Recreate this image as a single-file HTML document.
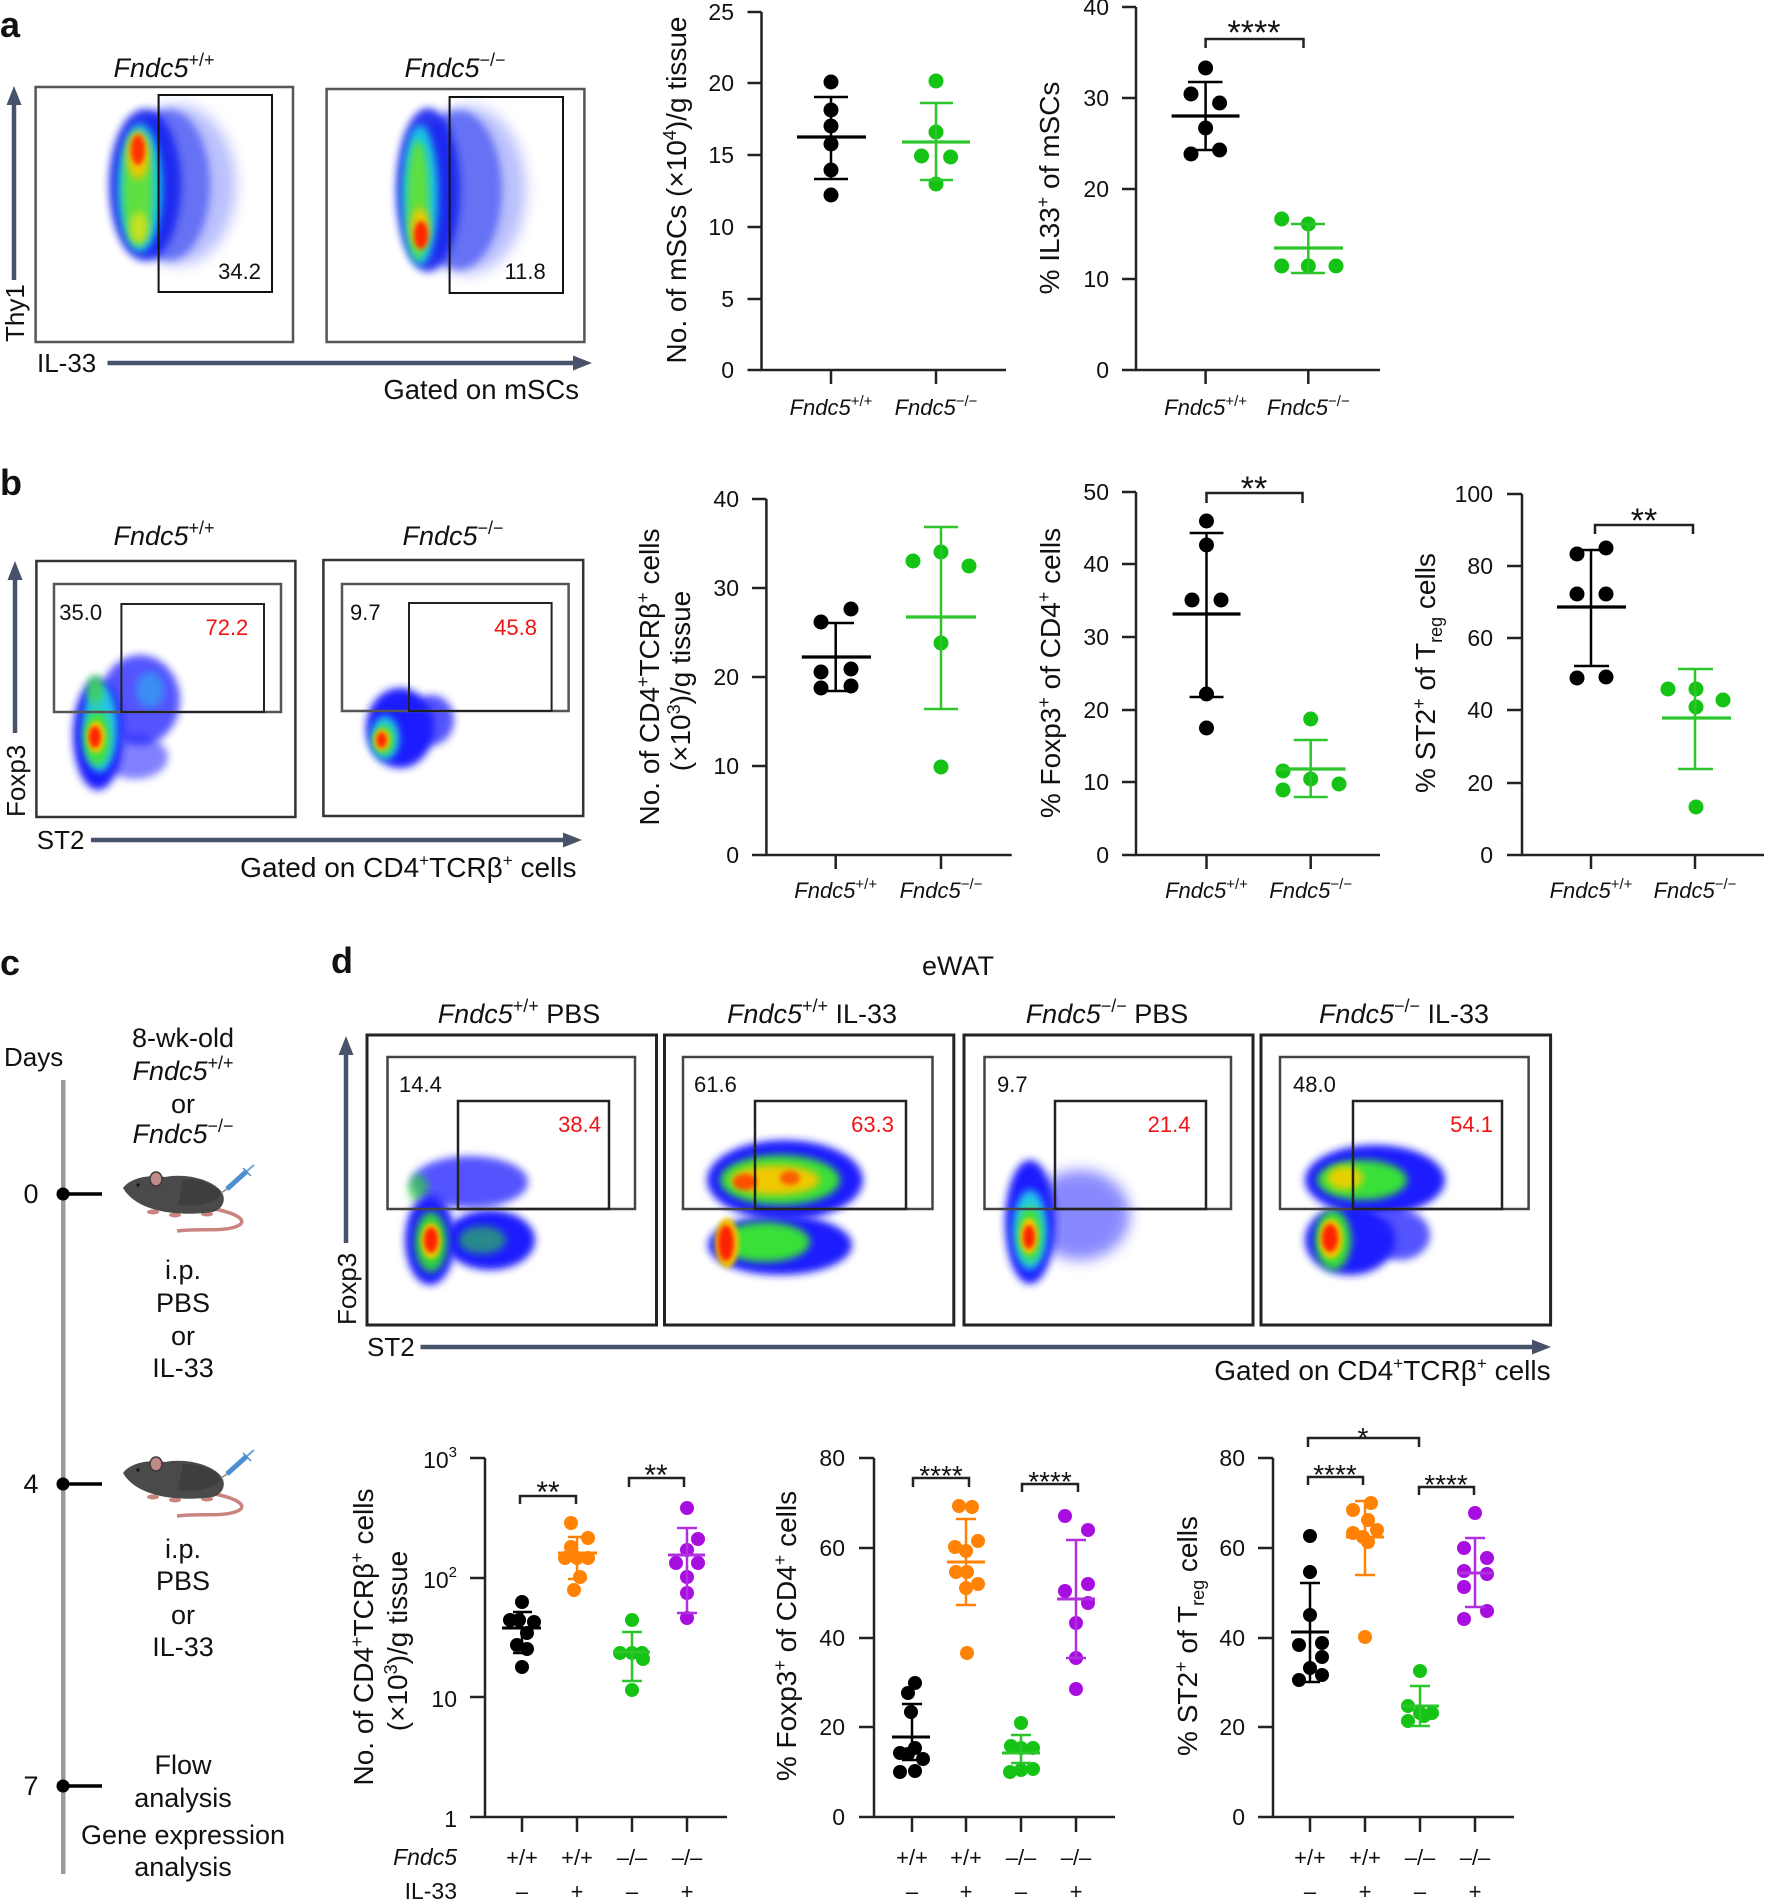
<!DOCTYPE html>
<html><head><meta charset="utf-8"><style>
html,body{margin:0;padding:0;background:#fff;}
svg{display:block;}
text{font-family:"Liberation Sans",sans-serif;fill:#111;}
.i{font-style:italic;}
.r{fill:#f01414;}
</style></head><body>
<svg width="1766" height="1900" viewBox="0 0 1766 1900">
<defs>
<filter id="f2" x="-50%" y="-50%" width="200%" height="200%"><feGaussianBlur stdDeviation="2.5"/></filter>
<filter id="f4" x="-50%" y="-50%" width="200%" height="200%"><feGaussianBlur stdDeviation="4"/></filter>
<filter id="f7" x="-50%" y="-50%" width="200%" height="200%"><feGaussianBlur stdDeviation="7"/></filter>
<g id="mouse">
  <path d="M92 44 C116 49 127 57 112 62 C96 67 76 63 54 66" stroke="#c9847f" stroke-width="3.5" fill="none"/>
  <ellipse cx="30" cy="47" rx="6" ry="2.5" fill="#c9847f"/>
  <ellipse cx="52" cy="50" rx="6" ry="2.5" fill="#c9847f"/>
  <ellipse cx="84" cy="49" rx="6" ry="2.5" fill="#c9847f"/>
  <path d="M0 23 C6 14 24 9 42 12 C62 8 88 14 98 26 C104 34 100 44 90 47 C70 50 45 49 30 44 C16 40 6 33 0 23 Z" fill="#4a4a4a"/>
  <path d="M60 14 C80 14 96 22 98 30 C90 40 70 42 55 40 Z" fill="#3e3e3e"/>
  <ellipse cx="33" cy="14" rx="6" ry="7" fill="#c08a88" stroke="#3a3a3a" stroke-width="1.5"/>
  <circle cx="15" cy="20" r="1.6" fill="#111"/>
  <line x1="98" y1="28" x2="104" y2="24" stroke="#888" stroke-width="1.5"/>
  <line x1="104" y1="24" x2="124" y2="6" stroke="#4a90d0" stroke-width="5"/>
  <line x1="124" y1="6" x2="131" y2="0" stroke="#6aa8e0" stroke-width="2"/>
  <line x1="120" y1="3" x2="128" y2="11" stroke="#4a90d0" stroke-width="1.5"/>
</g>
</defs>

<!-- ============ PANEL A FLOW ============ -->
<text x="0" y="37" font-size="36" font-weight="bold">a</text>
<text x="164" y="77" text-anchor="middle" font-size="27"><tspan class="i">Fndc5</tspan><tspan font-size="18" dy="-11">+/+</tspan></text>
<text x="455" y="77" text-anchor="middle" font-size="27"><tspan class="i">Fndc5</tspan><tspan font-size="18" dy="-11">−/−</tspan></text>

<g>
  <ellipse cx="178" cy="185" rx="58" ry="80" fill="#3a4cf6" opacity="0.35" filter="url(#f7)"/>
  <ellipse cx="168" cy="185" rx="42" ry="76" fill="#2232f0" opacity="0.55" filter="url(#f4)"/>
  <ellipse cx="145" cy="185" rx="36" ry="76" fill="#1424ee" opacity="0.9" filter="url(#f4)"/>
  <ellipse cx="140" cy="188" rx="22" ry="64" fill="#18c4e8" filter="url(#f4)"/>
  <ellipse cx="138" cy="190" rx="15" ry="55" fill="#5ee040" filter="url(#f4)"/>
  <ellipse cx="139" cy="228" rx="9" ry="16" fill="#c8e020" filter="url(#f4)"/>
  <ellipse cx="138" cy="155" rx="11" ry="24" fill="#f0c800" filter="url(#f4)"/>
  <ellipse cx="138" cy="150" rx="7" ry="15" fill="#ff3000" filter="url(#f2)"/>
</g>
<g>
  <ellipse cx="468" cy="190" rx="58" ry="84" fill="#3a4cf6" opacity="0.35" filter="url(#f7)"/>
  <ellipse cx="458" cy="190" rx="44" ry="80" fill="#2232f0" opacity="0.55" filter="url(#f4)"/>
  <ellipse cx="428" cy="190" rx="32" ry="82" fill="#1424ee" opacity="0.9" filter="url(#f4)"/>
  <ellipse cx="420" cy="195" rx="18" ry="70" fill="#18c4e8" filter="url(#f4)"/>
  <ellipse cx="418" cy="200" rx="11" ry="60" fill="#5ee040" filter="url(#f4)"/>
  <ellipse cx="420" cy="228" rx="9" ry="20" fill="#f0c800" filter="url(#f4)"/>
  <ellipse cx="421" cy="235" rx="7" ry="14" fill="#ff2800" filter="url(#f2)"/>
</g>
<rect x="35.6" y="87" width="257.4" height="255" fill="none" stroke="#555" stroke-width="2.5"/>
<rect x="326.6" y="89" width="257.8" height="253" fill="none" stroke="#555" stroke-width="2.5"/>
<rect x="158.6" y="95" width="113.4" height="197" fill="none" stroke="#111" stroke-width="2"/>
<rect x="449.6" y="97" width="113.4" height="196" fill="none" stroke="#111" stroke-width="2"/>
<text x="261" y="279" text-anchor="end" font-size="22">34.2</text>
<text x="545.7" y="279" text-anchor="end" font-size="22">11.8</text>
<line x1="14" y1="280" x2="14" y2="100" stroke="#46536a" stroke-width="4.5"/>
<polygon points="14,86 6.5,105 21.5,105" fill="#46536a"/>
<text transform="translate(24,342) rotate(-90)" font-size="26">Thy1</text>
<text x="37" y="372" font-size="26">IL-33</text>
<line x1="107.5" y1="363" x2="578" y2="363" stroke="#46536a" stroke-width="4.5"/>
<polygon points="592,363 573,355.5 573,370.5" fill="#46536a"/>
<text x="579" y="399" text-anchor="end" font-size="27.5">Gated on mSCs</text>

<!-- ============ PANEL A CHARTS ============ -->
<g stroke="#222" stroke-width="2.5" fill="none">
  <path d="M761.5 12 V370 H1006"/>
  <path d="M747.5 12 H761.5 M747.5 83 H761.5 M747.5 155 H761.5 M747.5 227 H761.5 M747.5 299 H761.5 M747.5 370 H761.5 M831 370 V384 M936 370 V384"/>
  <path d="M1136 7 V370 H1380"/>
  <path d="M1122 7 H1136 M1122 98 H1136 M1122 189 H1136 M1122 279 H1136 M1122 370 H1136 M1205.6 370 V384 M1308.3 370 V384"/>
  <path d="M1205.6 48 V39 H1303.5 V48"/>
</g>
<g font-size="23" text-anchor="end">
  <text x="734" y="20">25</text><text x="734" y="91">20</text><text x="734" y="163">15</text><text x="734" y="235">10</text><text x="734" y="307">5</text><text x="734" y="378">0</text>
  <text x="1109" y="15">40</text><text x="1109" y="106">30</text><text x="1109" y="197">20</text><text x="1109" y="287">10</text><text x="1109" y="378">0</text>
</g>
<g font-size="22" text-anchor="middle">
  <text x="831" y="415"><tspan class="i">Fndc5</tspan><tspan font-size="15" dy="-9">+/+</tspan></text>
  <text x="936" y="415"><tspan class="i">Fndc5</tspan><tspan font-size="15" dy="-9">−/−</tspan></text>
  <text x="1205.6" y="415"><tspan class="i">Fndc5</tspan><tspan font-size="15" dy="-9">+/+</tspan></text>
  <text x="1308.3" y="415"><tspan class="i">Fndc5</tspan><tspan font-size="15" dy="-9">−/−</tspan></text>
</g>
<text transform="translate(686,190) rotate(-90)" text-anchor="middle" font-size="28">No. of mSCs (×10<tspan font-size="18" dy="-10">4</tspan><tspan dy="10">)/g tissue</tspan></text>
<text transform="translate(1059,188) rotate(-90)" text-anchor="middle" font-size="28">% IL33<tspan font-size="18" dy="-10">+</tspan><tspan dy="10"> of mSCs</tspan></text>
<text x="1254" y="44" text-anchor="middle" font-size="34">****</text>

<!-- a1 data -->
<g fill="#000"><circle cx="831" cy="82" r="7.5"/><circle cx="831" cy="110" r="7.5"/><circle cx="831" cy="126" r="7.5"/><circle cx="831" cy="144" r="7.5"/><circle cx="831" cy="170" r="7.5"/><circle cx="831" cy="195" r="7.5"/></g>
<g stroke="#000" stroke-width="2.5"><path d="M831 97 V179 M814 97 H848 M814 179 H848"/><path d="M797 137 H866" stroke-width="3.2"/></g>
<g fill="#14c314"><circle cx="936" cy="81" r="7.5"/><circle cx="936" cy="132" r="7.5"/><circle cx="921.5" cy="156" r="7.5"/><circle cx="950.6" cy="157" r="7.5"/><circle cx="936" cy="184" r="7.5"/></g>
<g stroke="#2cc62c" stroke-width="2.5"><path d="M936 103 V180 M920 103 H953 M920 180 H953"/><path d="M902 142 H970" stroke-width="3.2"/></g>
<!-- a2 data -->
<g fill="#000"><circle cx="1205.6" cy="68" r="7.5"/><circle cx="1191" cy="94" r="7.5"/><circle cx="1219.6" cy="103" r="7.5"/><circle cx="1205.6" cy="128" r="7.5"/><circle cx="1191" cy="154" r="7.5"/><circle cx="1219.6" cy="150" r="7.5"/></g>
<g stroke="#000" stroke-width="2.5"><path d="M1205.6 82 V150 M1188 82 H1222.5 M1188 150 H1222.5"/><path d="M1171.6 116 H1239.5" stroke-width="3.2"/></g>
<g fill="#14c314"><circle cx="1281.7" cy="219" r="7.5"/><circle cx="1308.3" cy="224" r="7.5"/><circle cx="1281.7" cy="266" r="7.5"/><circle cx="1308.3" cy="266" r="7.5"/><circle cx="1336" cy="266" r="7.5"/></g>
<g stroke="#2cc62c" stroke-width="2.5"><path d="M1308.3 224 V273 M1291 224 H1325 M1291 273 H1325"/><path d="M1274 248 H1343" stroke-width="3.2"/></g>

<!-- ============ PANEL B FLOW ============ -->
<text x="0" y="495" font-size="36" font-weight="bold">b</text>
<text x="164" y="545" text-anchor="middle" font-size="27"><tspan class="i">Fndc5</tspan><tspan font-size="18" dy="-11">+/+</tspan></text>
<text x="453" y="545" text-anchor="middle" font-size="27"><tspan class="i">Fndc5</tspan><tspan font-size="18" dy="-11">−/−</tspan></text>
<g>
  <ellipse cx="140" cy="700" rx="40" ry="45" fill="#1a1aff" opacity="0.75" filter="url(#f4)"/>
  <ellipse cx="135" cy="757" rx="33" ry="22" fill="#1a1aff" opacity="0.55" filter="url(#f4)"/>
  <ellipse cx="98" cy="735" rx="25" ry="55" fill="#1a1aff" filter="url(#f4)"/>
  <ellipse cx="150" cy="690" rx="14" ry="18" fill="#20c8e8" opacity="0.5" filter="url(#f4)"/>
  <ellipse cx="100" cy="728" rx="17" ry="44" fill="#20c8e8" filter="url(#f4)"/>
  <ellipse cx="97" cy="738" rx="13" ry="28" fill="#40e040" filter="url(#f4)"/>
  <ellipse cx="95" cy="690" rx="8" ry="15" fill="#40d060" filter="url(#f4)"/>
  <ellipse cx="96" cy="737" rx="9" ry="16" fill="#f0d000" filter="url(#f2)"/>
  <ellipse cx="95" cy="737" rx="6" ry="11" fill="#ff2000" filter="url(#f2)"/>
</g>
<g>
  <ellipse cx="400" cy="728" rx="34" ry="40" fill="#1a1aff" filter="url(#f4)"/>
  <ellipse cx="432" cy="720" rx="22" ry="25" fill="#1a1aff" opacity="0.75" filter="url(#f4)"/>
  <ellipse cx="385" cy="738" rx="14" ry="22" fill="#20c8e8" filter="url(#f4)"/>
  <ellipse cx="384" cy="740" rx="10" ry="15" fill="#40e040" filter="url(#f4)"/>
  <ellipse cx="382" cy="740" rx="8" ry="11" fill="#f0d000" filter="url(#f2)"/>
  <ellipse cx="381.6" cy="740" rx="5" ry="8" fill="#ff2000" filter="url(#f2)"/>
</g>
<rect x="36.4" y="561" width="259" height="256" fill="none" stroke="#333" stroke-width="2.5"/>
<rect x="323.4" y="560" width="259.8" height="256" fill="none" stroke="#333" stroke-width="2.5"/>
<rect x="54" y="584" width="227" height="128" fill="none" stroke="#555" stroke-width="2.5"/>
<rect x="121.4" y="604" width="142.6" height="108" fill="none" stroke="#222" stroke-width="2"/>
<rect x="342" y="584" width="226.6" height="127" fill="none" stroke="#555" stroke-width="2.5"/>
<rect x="409" y="603" width="142.6" height="108" fill="none" stroke="#222" stroke-width="2"/>
<text x="59.3" y="620" font-size="22">35.0</text>
<text x="248.3" y="635" text-anchor="end" font-size="22" class="r">72.2</text>
<text x="350" y="620" font-size="22">9.7</text>
<text x="537" y="635" text-anchor="end" font-size="22" class="r">45.8</text>
<line x1="15" y1="733" x2="15" y2="575" stroke="#46536a" stroke-width="4.5"/>
<polygon points="15,561 7.5,580 22.5,580" fill="#46536a"/>
<text transform="translate(25,817) rotate(-90)" font-size="26">Foxp3</text>
<text x="36.8" y="849" font-size="26">ST2</text>
<line x1="91" y1="840" x2="568" y2="840" stroke="#46536a" stroke-width="4.5"/>
<polygon points="582,840 563,832.5 563,847.5" fill="#46536a"/>
<text x="576.5" y="877" text-anchor="end" font-size="28">Gated on CD4<tspan font-size="17" dy="-11">+</tspan><tspan dy="11">TCRβ</tspan><tspan font-size="17" dy="-11">+</tspan><tspan dy="11"> cells</tspan></text>

<!-- ============ PANEL B CHARTS ============ -->
<g stroke="#222" stroke-width="2.5" fill="none">
  <path d="M766.4 499 V855 H1011.7"/>
  <path d="M752 499 H766.4 M752 588 H766.4 M752 677 H766.4 M752 766 H766.4 M752 855 H766.4 M835.7 855 V869 M941 855 V869"/>
  <path d="M1136 492 V855 H1380"/>
  <path d="M1122 492 H1136 M1122 564 H1136 M1122 637 H1136 M1122 710 H1136 M1122 782 H1136 M1122 855 H1136 M1206.5 855 V869 M1310.7 855 V869"/>
  <path d="M1206.5 503 V493 H1302.5 V503"/>
  <path d="M1522 494 V855 H1764"/>
  <path d="M1507 494 H1522 M1507 566 H1522 M1507 638 H1522 M1507 710 H1522 M1507 783 H1522 M1507 855 H1522 M1591 855 V869 M1695 855 V869"/>
  <path d="M1595 534 V525 H1693 V534"/>
</g>
<g font-size="23" text-anchor="end">
  <text x="739" y="507">40</text><text x="739" y="596">30</text><text x="739" y="685">20</text><text x="739" y="774">10</text><text x="739" y="863">0</text>
  <text x="1109" y="500">50</text><text x="1109" y="572">40</text><text x="1109" y="645">30</text><text x="1109" y="718">20</text><text x="1109" y="790">10</text><text x="1109" y="863">0</text>
  <text x="1493" y="502">100</text><text x="1493" y="574">80</text><text x="1493" y="646">60</text><text x="1493" y="718">40</text><text x="1493" y="791">20</text><text x="1493" y="863">0</text>
</g>
<g font-size="22" text-anchor="middle">
  <text x="835.7" y="898"><tspan class="i">Fndc5</tspan><tspan font-size="15" dy="-9">+/+</tspan></text>
  <text x="941" y="898"><tspan class="i">Fndc5</tspan><tspan font-size="15" dy="-9">−/−</tspan></text>
  <text x="1206.5" y="898"><tspan class="i">Fndc5</tspan><tspan font-size="15" dy="-9">+/+</tspan></text>
  <text x="1310.7" y="898"><tspan class="i">Fndc5</tspan><tspan font-size="15" dy="-9">−/−</tspan></text>
  <text x="1591" y="898"><tspan class="i">Fndc5</tspan><tspan font-size="15" dy="-9">+/+</tspan></text>
  <text x="1695" y="898"><tspan class="i">Fndc5</tspan><tspan font-size="15" dy="-9">−/−</tspan></text>
</g>
<text transform="translate(659,677) rotate(-90)" text-anchor="middle" font-size="28">No. of CD4<tspan font-size="18" dy="-10">+</tspan><tspan dy="10">TCRβ</tspan><tspan font-size="18" dy="-10">+</tspan><tspan dy="10"> cells</tspan></text>
<text transform="translate(690,681) rotate(-90)" text-anchor="middle" font-size="28">(×10<tspan font-size="18" dy="-10">3</tspan><tspan dy="10">)/g tissue</tspan></text>
<text transform="translate(1060,673) rotate(-90)" text-anchor="middle" font-size="28">% Foxp3<tspan font-size="18" dy="-10">+</tspan><tspan dy="10"> of CD4</tspan><tspan font-size="18" dy="-10">+</tspan><tspan dy="10"> cells</tspan></text>
<text transform="translate(1435,673) rotate(-90)" text-anchor="middle" font-size="28">% ST2<tspan font-size="18" dy="-10">+</tspan><tspan dy="10"> of T</tspan><tspan font-size="18" dy="7">reg</tspan><tspan dy="-7"> cells</tspan></text>
<text x="1254" y="500" text-anchor="middle" font-size="34">**</text>
<text x="1644" y="532" text-anchor="middle" font-size="34">**</text>

<!-- b1 data -->
<g fill="#000"><circle cx="821" cy="622" r="7.5"/><circle cx="851" cy="609" r="7.5"/><circle cx="821" cy="672" r="7.5"/><circle cx="851" cy="669" r="7.5"/><circle cx="821" cy="688" r="7.5"/><circle cx="851" cy="686" r="7.5"/></g>
<g stroke="#000" stroke-width="2.5"><path d="M835.7 623 V691 M816 623 H854 M816 691 H854"/><path d="M801.8 657 H871" stroke-width="3.2"/></g>
<g fill="#14c314"><circle cx="913" cy="561" r="7.5"/><circle cx="941" cy="552" r="7.5"/><circle cx="969" cy="566" r="7.5"/><circle cx="941" cy="643" r="7.5"/><circle cx="941" cy="767" r="7.5"/></g>
<g stroke="#2cc62c" stroke-width="2.5"><path d="M941 527 V709 M924 527 H958 M924 709 H958"/><path d="M906 617 H976" stroke-width="3.2"/></g>
<!-- b2 data -->
<g fill="#000"><circle cx="1206.5" cy="521" r="7.5"/><circle cx="1206.5" cy="545" r="7.5"/><circle cx="1192" cy="600" r="7.5"/><circle cx="1221" cy="600" r="7.5"/><circle cx="1206.5" cy="694" r="7.5"/><circle cx="1206.5" cy="728" r="7.5"/></g>
<g stroke="#000" stroke-width="2.5"><path d="M1206.5 533 V697 M1189.6 533 H1223.5 M1189.6 697 H1223.5"/><path d="M1172.6 614 H1240.5" stroke-width="3.2"/></g>
<g fill="#14c314"><circle cx="1310.7" cy="719" r="7.5"/><circle cx="1283" cy="771" r="7.5"/><circle cx="1310.7" cy="779" r="7.5"/><circle cx="1339" cy="784" r="7.5"/><circle cx="1283" cy="790" r="7.5"/></g>
<g stroke="#2cc62c" stroke-width="2.5"><path d="M1310.7 740 V797 M1293.8 740 H1327.7 M1293.8 797 H1327.7"/><path d="M1277 769 H1345.6" stroke-width="3.2"/></g>
<!-- b3 data -->
<g fill="#000"><circle cx="1577" cy="554" r="7.5"/><circle cx="1606" cy="548" r="7.5"/><circle cx="1577" cy="594" r="7.5"/><circle cx="1606" cy="594" r="7.5"/><circle cx="1577" cy="678" r="7.5"/><circle cx="1606" cy="677" r="7.5"/></g>
<g stroke="#000" stroke-width="2.5"><path d="M1591 550 V666 M1574 550 H1609 M1574 666 H1609"/><path d="M1557 607 H1626" stroke-width="3.2"/></g>
<g fill="#14c314"><circle cx="1668" cy="689" r="7.5"/><circle cx="1696" cy="689" r="7.5"/><circle cx="1696" cy="707" r="7.5"/><circle cx="1723" cy="700" r="7.5"/><circle cx="1696" cy="807" r="7.5"/></g>
<g stroke="#2cc62c" stroke-width="2.5"><path d="M1695 669 V769 M1678 669 H1713 M1678 769 H1713"/><path d="M1662 718 H1731" stroke-width="3.2"/></g>

<!-- ============ PANEL C ============ -->
<text x="0" y="975" font-size="36" font-weight="bold">c</text>
<text x="4" y="1066" font-size="26">Days</text>
<rect x="61" y="1080" width="4.5" height="794" fill="#9a9a9a"/>
<g stroke="#000" stroke-width="3.5"><path d="M63 1194 H102 M63 1484 H102 M63 1786 H102"/></g>
<g fill="#000"><circle cx="63" cy="1194" r="6.5"/><circle cx="63" cy="1484" r="6.5"/><circle cx="63" cy="1786" r="6.5"/></g>
<g font-size="27" text-anchor="middle">
  <text x="31" y="1203">0</text><text x="31" y="1493">4</text><text x="31" y="1795">7</text>
  <text x="183" y="1047">8-wk-old</text>
  <text x="183" y="1080"><tspan class="i">Fndc5</tspan><tspan font-size="18" dy="-11">+/+</tspan></text>
  <text x="183" y="1113">or</text>
  <text x="183" y="1143"><tspan class="i">Fndc5</tspan><tspan font-size="18" dy="-11">−/−</tspan></text>
  <text x="183" y="1279">i.p.</text><text x="183" y="1312">PBS</text><text x="183" y="1345">or</text><text x="183" y="1377">IL-33</text>
  <text x="183" y="1558">i.p.</text><text x="183" y="1590">PBS</text><text x="183" y="1624">or</text><text x="183" y="1656">IL-33</text>
  <text x="183" y="1774">Flow</text><text x="183" y="1807">analysis</text><text x="183" y="1844">Gene expression</text><text x="183" y="1876">analysis</text>
</g>
<use href="#mouse" transform="translate(123,1165)"/>
<use href="#mouse" transform="translate(123,1450)"/>

<!-- ============ PANEL D FLOW ============ -->
<text x="331" y="973" font-size="36" font-weight="bold">d</text>
<text x="958" y="975" text-anchor="middle" font-size="27">eWAT</text>
<g font-size="27" text-anchor="middle">
  <text x="519" y="1023"><tspan class="i">Fndc5</tspan><tspan font-size="18" dy="-11">+/+</tspan><tspan dy="11"> PBS</tspan></text>
  <text x="812" y="1023"><tspan class="i">Fndc5</tspan><tspan font-size="18" dy="-11">+/+</tspan><tspan dy="11"> IL-33</tspan></text>
  <text x="1107" y="1023"><tspan class="i">Fndc5</tspan><tspan font-size="18" dy="-11">−/−</tspan><tspan dy="11"> PBS</tspan></text>
  <text x="1404" y="1023"><tspan class="i">Fndc5</tspan><tspan font-size="18" dy="-11">−/−</tspan><tspan dy="11"> IL-33</tspan></text>
</g>
<!-- clouds d box1 -->
<g>
  <ellipse cx="470" cy="1182" rx="58" ry="26" fill="#1a1aff" opacity="0.75" filter="url(#f4)"/>
  <ellipse cx="490" cy="1240" rx="45" ry="30" fill="#1a1aff" filter="url(#f4)"/>
  <ellipse cx="482" cy="1240" rx="24" ry="14" fill="#30d040" opacity="0.6" filter="url(#f4)"/>
  <ellipse cx="418" cy="1188" rx="10" ry="14" fill="#30d040" opacity="0.7" filter="url(#f4)"/>
  <ellipse cx="430" cy="1240" rx="25" ry="45" fill="#1a1aff" filter="url(#f4)"/>
  <ellipse cx="431" cy="1242" rx="16" ry="30" fill="#30d040" filter="url(#f4)"/>
  <ellipse cx="431" cy="1241" rx="10" ry="18" fill="#f0d000" filter="url(#f2)"/>
  <ellipse cx="431" cy="1240" rx="7" ry="13" fill="#ff2000" filter="url(#f2)"/>
</g>
<!-- box2 -->
<g>
  <ellipse cx="785" cy="1180" rx="78" ry="40" fill="#1a1aff" filter="url(#f4)"/>
  <ellipse cx="780" cy="1245" rx="72" ry="30" fill="#1a1aff" filter="url(#f4)"/>
  <ellipse cx="780" cy="1180" rx="60" ry="25" fill="#38e038" filter="url(#f4)"/>
  <ellipse cx="775" cy="1180" rx="45" ry="15" fill="#f0c800" filter="url(#f4)"/>
  <ellipse cx="745" cy="1182" rx="12" ry="8" fill="#ff3000" opacity="0.8" filter="url(#f2)"/>
  <ellipse cx="790" cy="1178" rx="10" ry="7" fill="#ff3000" opacity="0.7" filter="url(#f2)"/>
  <ellipse cx="765" cy="1242" rx="45" ry="20" fill="#38e038" filter="url(#f4)"/>
  <ellipse cx="727" cy="1243" rx="12" ry="25" fill="#f0c800" filter="url(#f2)"/>
  <ellipse cx="726" cy="1243" rx="8" ry="18" fill="#ff2000" filter="url(#f2)"/>
</g>
<!-- box3 -->
<g>
  <ellipse cx="1080" cy="1215" rx="50" ry="45" fill="#2a2aff" opacity="0.55" filter="url(#f7)"/>
  <ellipse cx="1030" cy="1222" rx="25" ry="62" fill="#1a1aff" filter="url(#f4)"/>
  <ellipse cx="1030" cy="1230" rx="17" ry="40" fill="#20c8e8" filter="url(#f4)"/>
  <ellipse cx="1030" cy="1234" rx="12" ry="28" fill="#40e040" filter="url(#f4)"/>
  <ellipse cx="1029" cy="1236" rx="9" ry="18" fill="#f0d000" filter="url(#f2)"/>
  <ellipse cx="1029" cy="1237" rx="6" ry="12" fill="#ff2000" filter="url(#f2)"/>
</g>
<!-- box4 -->
<g>
  <ellipse cx="1375" cy="1180" rx="70" ry="35" fill="#1a1aff" filter="url(#f4)"/>
  <ellipse cx="1400" cy="1235" rx="30" ry="25" fill="#1a1aff" opacity="0.75" filter="url(#f4)"/>
  <ellipse cx="1350" cy="1240" rx="45" ry="35" fill="#1a1aff" filter="url(#f4)"/>
  <ellipse cx="1362" cy="1180" rx="45" ry="20" fill="#38e038" filter="url(#f4)"/>
  <ellipse cx="1345" cy="1178" rx="18" ry="12" fill="#e8d000" filter="url(#f4)"/>
  <ellipse cx="1333" cy="1240" rx="18" ry="30" fill="#38e038" filter="url(#f4)"/>
  <ellipse cx="1331" cy="1239" rx="12" ry="20" fill="#f0c800" filter="url(#f2)"/>
  <ellipse cx="1330" cy="1238" rx="8" ry="14" fill="#ff2000" filter="url(#f2)"/>
</g>
<g fill="none">
  <rect x="367" y="1035" width="289.5" height="290" stroke="#222" stroke-width="3"/>
  <rect x="664.5" y="1035" width="289.3" height="290" stroke="#222" stroke-width="3"/>
  <rect x="964" y="1035" width="289" height="290" stroke="#222" stroke-width="3"/>
  <rect x="1261" y="1035" width="289.6" height="290" stroke="#222" stroke-width="3"/>
  <g stroke="#444" stroke-width="2.5">
    <rect x="387.5" y="1057" width="247.5" height="152"/>
    <rect x="683" y="1057" width="249.5" height="152"/>
    <rect x="984.5" y="1057" width="246.5" height="152"/>
    <rect x="1280" y="1057" width="248.6" height="152"/>
  </g>
  <g stroke="#222" stroke-width="2.5">
    <rect x="458" y="1101" width="151" height="108"/>
    <rect x="755" y="1101" width="151" height="108"/>
    <rect x="1055" y="1101" width="151" height="108"/>
    <rect x="1353" y="1101" width="149" height="108"/>
  </g>
</g>
<g font-size="22">
  <text x="399" y="1092">14.4</text><text x="694" y="1092">61.6</text><text x="997" y="1092">9.7</text><text x="1293" y="1092">48.0</text>
  <text x="601" y="1132" text-anchor="end" class="r">38.4</text>
  <text x="894" y="1132" text-anchor="end" class="r">63.3</text>
  <text x="1190.5" y="1132" text-anchor="end" class="r">21.4</text>
  <text x="1493" y="1132" text-anchor="end" class="r">54.1</text>
</g>
<line x1="346" y1="1243" x2="346" y2="1050" stroke="#46536a" stroke-width="4.5"/>
<polygon points="346,1036 338.5,1055 353.5,1055" fill="#46536a"/>
<text transform="translate(356,1325) rotate(-90)" font-size="26">Foxp3</text>
<text x="367" y="1356" font-size="26">ST2</text>
<line x1="420.5" y1="1347" x2="1536" y2="1347" stroke="#46536a" stroke-width="4.5"/>
<polygon points="1551,1347 1532,1339.5 1532,1354.5" fill="#46536a"/>
<text x="1550.6" y="1380" text-anchor="end" font-size="28">Gated on CD4<tspan font-size="17" dy="-11">+</tspan><tspan dy="11">TCRβ</tspan><tspan font-size="17" dy="-11">+</tspan><tspan dy="11"> cells</tspan></text>

<!-- ============ PANEL D CHARTS ============ -->
<g stroke="#222" stroke-width="2.5" fill="none">
  <path d="M485 1458 V1817 H727"/>
  <path d="M470 1458 H485 M470 1578 H485 M470 1697 H485 M470 1817 H485 M522 1817 V1832 M577 1817 V1832 M632 1817 V1832 M687 1817 V1832"/>
  <path d="M520 1504 V1496 H576 V1504 M629 1487 V1478 H684 V1487"/>
  <path d="M874 1458 V1817 H1115"/>
  <path d="M859 1458 H874 M859 1548 H874 M859 1638 H874 M859 1727 H874 M859 1817 H874 M912 1817 V1832 M966 1817 V1832 M1021 1817 V1832 M1076 1817 V1832"/>
  <path d="M913 1487 V1478 H969 V1487 M1022 1492 V1484 H1078 V1492"/>
  <path d="M1273 1458 V1817 H1514"/>
  <path d="M1258 1458 H1273 M1258 1548 H1273 M1258 1638 H1273 M1258 1727 H1273 M1258 1817 H1273 M1310 1817 V1832 M1365 1817 V1832 M1420 1817 V1832 M1475 1817 V1832"/>
  <path d="M1308 1447 V1438 H1419 V1447 M1308 1485 V1477 H1363 V1485 M1419 1495 V1487 H1474 V1495"/>
</g>
<g font-size="23" text-anchor="end">
  <text x="457" y="1468">10<tspan font-size="15" dy="-11">3</tspan></text>
  <text x="457" y="1588">10<tspan font-size="15" dy="-11">2</tspan></text>
  <text x="457" y="1707">10</text>
  <text x="457" y="1827">1</text>
  <text x="845" y="1466">80</text><text x="845" y="1556">60</text><text x="845" y="1646">40</text><text x="845" y="1735">20</text><text x="845" y="1825">0</text>
  <text x="1245" y="1466">80</text><text x="1245" y="1556">60</text><text x="1245" y="1646">40</text><text x="1245" y="1735">20</text><text x="1245" y="1825">0</text>
</g>
<g font-size="23">
  <text x="457" y="1865" text-anchor="end" class="i">Fndc5</text>
  <text x="457" y="1899" text-anchor="end">IL-33</text>
</g>
<g font-size="22" text-anchor="middle">
  <text x="522" y="1865">+/+</text><text x="577" y="1865">+/+</text><text x="632" y="1865">–/–</text><text x="687" y="1865">–/–</text>
  <text x="522" y="1899">–</text><text x="577" y="1899">+</text><text x="632" y="1899">–</text><text x="687" y="1899">+</text>
  <text x="912" y="1865">+/+</text><text x="966" y="1865">+/+</text><text x="1021" y="1865">–/–</text><text x="1076" y="1865">–/–</text>
  <text x="912" y="1899">–</text><text x="966" y="1899">+</text><text x="1021" y="1899">–</text><text x="1076" y="1899">+</text>
  <text x="1310" y="1865">+/+</text><text x="1365" y="1865">+/+</text><text x="1420" y="1865">–/–</text><text x="1475" y="1865">–/–</text>
  <text x="1310" y="1899">–</text><text x="1365" y="1899">+</text><text x="1420" y="1899">–</text><text x="1475" y="1899">+</text>
</g>
<text transform="translate(373,1637) rotate(-90)" text-anchor="middle" font-size="28">No. of CD4<tspan font-size="18" dy="-10">+</tspan><tspan dy="10">TCRβ</tspan><tspan font-size="18" dy="-10">+</tspan><tspan dy="10"> cells</tspan></text>
<text transform="translate(407,1641) rotate(-90)" text-anchor="middle" font-size="28">(×10<tspan font-size="18" dy="-10">3</tspan><tspan dy="10">)/g tissue</tspan></text>
<text transform="translate(796,1636) rotate(-90)" text-anchor="middle" font-size="28">% Foxp3<tspan font-size="18" dy="-10">+</tspan><tspan dy="10"> of CD4</tspan><tspan font-size="18" dy="-10">+</tspan><tspan dy="10"> cells</tspan></text>
<text transform="translate(1197,1636) rotate(-90)" text-anchor="middle" font-size="28">% ST2<tspan font-size="18" dy="-10">+</tspan><tspan dy="10"> of T</tspan><tspan font-size="18" dy="7">reg</tspan><tspan dy="-7"> cells</tspan></text>
<g font-size="30" text-anchor="middle">
  <text x="548" y="1502">**</text><text x="656" y="1485">**</text>
</g>
<g font-size="28" text-anchor="middle">
  <text x="941" y="1485">****</text><text x="1050" y="1491">****</text>
  <text x="1363" y="1447">*</text><text x="1335" y="1484">****</text><text x="1446" y="1494">****</text>
</g>

<!-- d1 data -->
<g fill="#000"><circle cx="522" cy="1602" r="7"/><circle cx="510" cy="1620" r="7"/><circle cx="519" cy="1620" r="7"/><circle cx="534" cy="1622" r="7"/><circle cx="527" cy="1633" r="7"/><circle cx="517" cy="1645" r="7"/><circle cx="527" cy="1649" r="7"/><circle cx="522" cy="1667" r="7"/></g>
<g stroke="#000" stroke-width="2.5"><path d="M522 1612 V1653 M513 1612 H532 M513 1653 H532"/><path d="M502 1628 H541" stroke-width="3"/></g>
<g fill="#ff8205"><circle cx="571" cy="1523" r="7"/><circle cx="588" cy="1538" r="7"/><circle cx="571" cy="1547" r="7"/><circle cx="565" cy="1558" r="7"/><circle cx="577" cy="1558" r="7"/><circle cx="588" cy="1558" r="7"/><circle cx="580" cy="1577" r="7"/><circle cx="574" cy="1590" r="7"/></g>
<g stroke="#ff8205" stroke-width="2.5"><path d="M577 1537 V1579 M568 1537 H587 M568 1579 H587"/><path d="M558 1553 H597" stroke-width="3"/></g>
<g fill="#14c314"><circle cx="632" cy="1620" r="7"/><circle cx="620" cy="1653" r="7"/><circle cx="632" cy="1653" r="7"/><circle cx="642" cy="1653" r="7"/><circle cx="643" cy="1659" r="7"/><circle cx="632" cy="1690" r="7"/></g>
<g stroke="#2cc62c" stroke-width="2.5"><path d="M632 1632 V1681 M622 1632 H642 M622 1681 H642"/><path d="M613 1652 H650" stroke-width="3"/></g>
<g fill="#a80ee0"><circle cx="687" cy="1508" r="7"/><circle cx="698" cy="1539" r="7"/><circle cx="687" cy="1550" r="7"/><circle cx="676" cy="1563" r="7"/><circle cx="698" cy="1563" r="7"/><circle cx="687" cy="1577" r="7"/><circle cx="687" cy="1593" r="7"/><circle cx="687" cy="1618" r="7"/></g>
<g stroke="#b030e0" stroke-width="2.5"><path d="M687 1528 V1613 M677 1528 H697 M677 1613 H697"/><path d="M668 1555 H705" stroke-width="3"/></g>

<!-- d2 data -->
<g fill="#000"><circle cx="915" cy="1683" r="7"/><circle cx="908" cy="1693" r="7"/><circle cx="911" cy="1712" r="7"/><circle cx="900" cy="1753" r="7"/><circle cx="915" cy="1748" r="7"/><circle cx="908" cy="1754" r="7"/><circle cx="923" cy="1759" r="7"/><circle cx="900" cy="1772" r="7"/><circle cx="915" cy="1771" r="7"/></g>
<g stroke="#000" stroke-width="2.5"><path d="M912 1704 V1760 M902 1704 H922 M902 1760 H922"/><path d="M892 1737 H930" stroke-width="3"/></g>
<g fill="#ff8205"><circle cx="959" cy="1506" r="7"/><circle cx="972" cy="1507" r="7"/><circle cx="955" cy="1547" r="7"/><circle cx="966" cy="1551" r="7"/><circle cx="978" cy="1541" r="7"/><circle cx="956" cy="1572" r="7"/><circle cx="967" cy="1572" r="7"/><circle cx="978" cy="1584" r="7"/><circle cx="966" cy="1588" r="7"/><circle cx="967" cy="1653" r="7"/></g>
<g stroke="#ff8205" stroke-width="2.5"><path d="M966 1519 V1605 M956 1519 H976 M956 1605 H976"/><path d="M947 1562 H985" stroke-width="3"/></g>
<g fill="#14c314"><circle cx="1021" cy="1723" r="7"/><circle cx="1011" cy="1746" r="7"/><circle cx="1021" cy="1748" r="7"/><circle cx="1033" cy="1748" r="7"/><circle cx="1010" cy="1772" r="7"/><circle cx="1021" cy="1770" r="7"/><circle cx="1033" cy="1769" r="7"/></g>
<g stroke="#2cc62c" stroke-width="2.5"><path d="M1021 1735 V1763 M1011 1735 H1031 M1011 1763 H1031"/><path d="M1002 1753 H1040" stroke-width="3"/></g>
<g fill="#a80ee0"><circle cx="1065" cy="1516" r="7"/><circle cx="1088" cy="1530" r="7"/><circle cx="1065" cy="1591" r="7"/><circle cx="1088" cy="1584" r="7"/><circle cx="1088" cy="1603" r="7"/><circle cx="1076" cy="1623" r="7"/><circle cx="1076" cy="1658" r="7"/><circle cx="1076" cy="1689" r="7"/></g>
<g stroke="#b030e0" stroke-width="2.5"><path d="M1076 1540 V1658 M1066 1540 H1086 M1066 1658 H1086"/><path d="M1057 1599 H1095" stroke-width="3"/></g>

<!-- d3 data -->
<g fill="#000"><circle cx="1310" cy="1536" r="7"/><circle cx="1310" cy="1572" r="7"/><circle cx="1310" cy="1615" r="7"/><circle cx="1299" cy="1645" r="7"/><circle cx="1322" cy="1643" r="7"/><circle cx="1322" cy="1657" r="7"/><circle cx="1310" cy="1668" r="7"/><circle cx="1322" cy="1675" r="7"/><circle cx="1299" cy="1680" r="7"/></g>
<g stroke="#000" stroke-width="2.5"><path d="M1310 1583 V1682 M1300 1583 H1320 M1300 1682 H1320"/><path d="M1291 1632 H1329" stroke-width="3"/></g>
<g fill="#ff8205"><circle cx="1353" cy="1510" r="7"/><circle cx="1371" cy="1503" r="7"/><circle cx="1368" cy="1520" r="7"/><circle cx="1353" cy="1533" r="7"/><circle cx="1377" cy="1530" r="7"/><circle cx="1363" cy="1537" r="7"/><circle cx="1368" cy="1542" r="7"/><circle cx="1365" cy="1637" r="7"/></g>
<g stroke="#ff8205" stroke-width="2.5"><path d="M1365 1501 V1575 M1355 1501 H1375 M1355 1575 H1375"/><path d="M1346 1537 H1384" stroke-width="3"/></g>
<g fill="#14c314"><circle cx="1420" cy="1671" r="7"/><circle cx="1408" cy="1706" r="7"/><circle cx="1420" cy="1713" r="7"/><circle cx="1432" cy="1713" r="7"/><circle cx="1408" cy="1721" r="7"/><circle cx="1424" cy="1716" r="7"/></g>
<g stroke="#2cc62c" stroke-width="2.5"><path d="M1420 1686 V1726 M1410 1686 H1430 M1410 1726 H1430"/><path d="M1402 1706 H1439" stroke-width="3"/></g>
<g fill="#a80ee0"><circle cx="1475" cy="1513" r="7"/><circle cx="1464" cy="1548" r="7"/><circle cx="1487" cy="1558" r="7"/><circle cx="1464" cy="1571" r="7"/><circle cx="1487" cy="1574" r="7"/><circle cx="1464" cy="1587" r="7"/><circle cx="1487" cy="1611" r="7"/><circle cx="1464" cy="1619" r="7"/></g>
<g stroke="#b030e0" stroke-width="2.5"><path d="M1475 1538 V1607 M1465 1538 H1485 M1465 1607 H1485"/><path d="M1457 1573 H1493" stroke-width="3"/></g>
</svg>
</body></html>
